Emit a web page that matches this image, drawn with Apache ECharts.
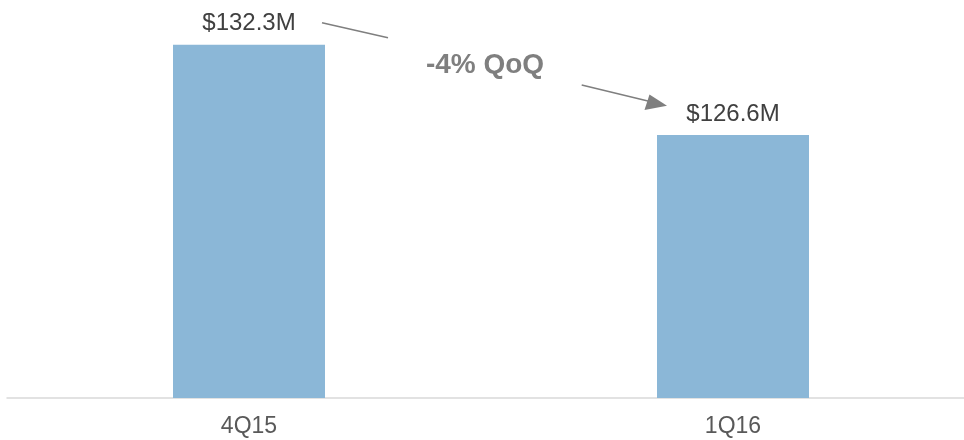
<!DOCTYPE html>
<html>
<head>
<meta charset="utf-8">
<script src="https://cdn.jsdelivr.net/npm/echarts@6/dist/echarts.min.js"></script>
<style>html,body{margin:0;padding:0;background:#fff}#c{width:964px;height:440px}</style>
</head>
<body>
<div id="c"></div>
<script>
const categories = ['4Q15', '1Q16'];
const revenue = [132.3, 126.6];
const valueLabels = ['$132.3M', '$126.6M'];
const changeText = '-4% QoQ';

const chart = echarts.init(document.getElementById('c'), null, {renderer: 'canvas'});
const F = '"Liberation Sans", Arial, sans-serif';
chart.setOption({
  animation: false,
  grid: {left: 7, width: 968, top: 2, bottom: 42, containLabel: false, outerBoundsMode: 'none'},
  xAxis: {
    type: 'category',
    data: categories,
    axisLine: {lineStyle: {color: '#d9d9d9', width: 1.5}},
    axisTick: {show: false},
    axisLabel: {color: '#595959', fontSize: 23, fontFamily: F, margin: 17}
  },
  yAxis: {type: 'value', min: 110, max: 135, show: false, splitLine: {show: false}},
  series: [{
    type: 'bar',
    data: revenue,
    barWidth: 152,
    itemStyle: {color: '#8bb7d7'},
    label: {
      show: true, position: 'top', distance: 9,
      color: '#404040', fontSize: 24, fontFamily: F,
      formatter: p => valueLabels[p.dataIndex]
    }
  }],
  graphic: [
    {type: 'text', x: 485, y: 65, style: {text: changeText, fill: '#7f7f7f', font: 'bold 28px ' + F, textAlign: 'center', textVerticalAlign: 'middle'}},
    {type: 'line', shape: {x1: 322, y1: 22.7, x2: 388, y2: 37.7}, style: {stroke: '#7f7f7f', lineWidth: 1.5}},
    {type: 'line', shape: {x1: 581.7, y1: 85, x2: 652, y2: 102}, style: {stroke: '#7f7f7f', lineWidth: 1.5}},
    {type: 'polygon', shape: {points: [[667, 105.8], [649.5, 94.5], [644.5, 110]]}, style: {fill: '#7f7f7f'}}
  ]
});
</script>
</body>
</html>
